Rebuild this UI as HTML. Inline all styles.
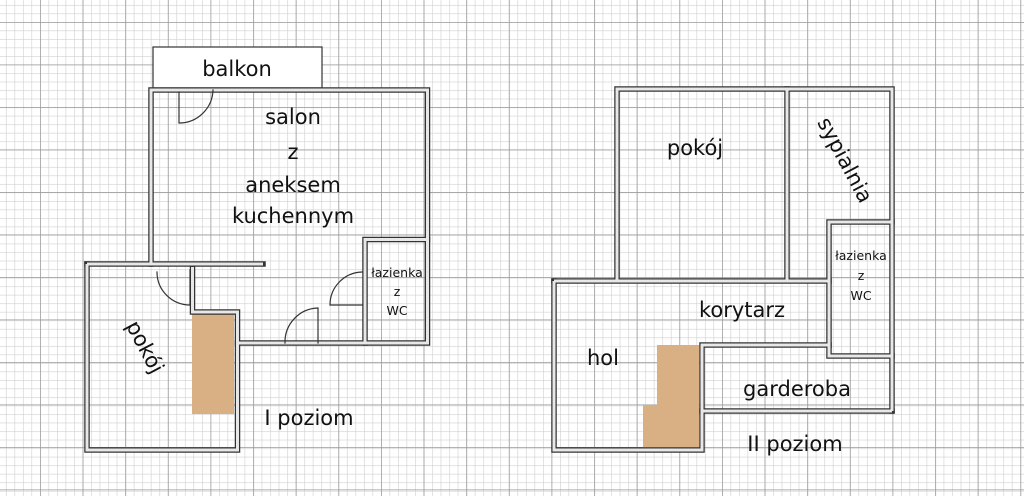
<!DOCTYPE html>
<html><head><meta charset="utf-8"><style>
html,body{margin:0;padding:0;background:#fff;}
svg{display:block}
text{font-family:"DejaVu Sans","Liberation Sans",sans-serif;fill:#111;}
</style></head><body>
<svg width="1024" height="496" viewBox="0 0 1024 496" xmlns="http://www.w3.org/2000/svg">
<defs>
<pattern id="minor" x="40" y="22" width="8.525" height="8.525" patternUnits="userSpaceOnUse">
<path d="M0,0 H8.525 M0,0 V8.525" stroke="#cfcfcf" stroke-width="1.2" fill="none"/>
</pattern>
<pattern id="major" x="40" y="22" width="42.625" height="42.5" patternUnits="userSpaceOnUse">
<path d="M0,0 H42.625 M0,0 V42.5" stroke="#9a9a9a" stroke-width="1.5" fill="none"/>
</pattern>
</defs>
<rect width="1024" height="496" fill="#fff"/>
<rect width="1024" height="496" fill="url(#minor)"/>
<rect width="1024" height="496" fill="url(#major)"/>

<!-- stairs -->
<rect x="192" y="313" width="42" height="101" fill="#d8b084"/>
<rect x="657" y="345" width="42" height="104" fill="#d8b084"/>
<rect x="643" y="405" width="14" height="44" fill="#d8b084"/>

<!-- balkon -->
<rect x="153" y="47" width="169" height="41" fill="#fff" stroke="#333" stroke-width="1.2"/>

<g fill="none" stroke-linejoin="miter" stroke-linecap="square">
<g stroke="#333" stroke-width="5.5">
<path d="M151,264 V90 H427.5 V343 H237.5"/>
<path d="M87,264 H263"/>
<path d="M87,264 V450 H237.5 V312 H192.5 V267"/>
<path d="M365,343 V239.5 H427.5"/>
<path d="M617,280 V89 H787 V280"/>
<path d="M787,89 H892 V411"/>
<path d="M892,222 H829 V356 H892"/>
<path d="M554,281 H829"/>
<path d="M554,281 V450 H702 V345 H829"/>
<path d="M702,411 H892"/>
</g>
<g stroke="#e8e8e8" stroke-width="3" stroke-linecap="butt">
<path d="M151,264 V90 H427.5 V343 H237.5"/>
<path d="M87,264 H263"/>
<path d="M87,264 V450 H237.5 V312 H192.5 V267"/>
<path d="M365,343 V239.5 H427.5"/>
<path d="M617,280 V89 H787 V280"/>
<path d="M787,89 H892 V411"/>
<path d="M892,222 H829 V356 H892"/>
<path d="M554,281 H829"/>
<path d="M554,281 V450 H702 V345 H829"/>
<path d="M702,411 H892"/>
</g>
<!-- doors -->
<g stroke="#333" stroke-width="1.2">
<path d="M179,92 V123 A34,34 0 0 0 213,90"/>
<path d="M190,305 A33,33 0 0 1 157,272"/>
<path d="M190,270 V305"/>
<path d="M318,343 V308 A34,34 0 0 0 285,343"/>
<path d="M362,305 H330 A33,33 0 0 1 362,272"/>
</g>
</g>

<g font-size="21" text-anchor="middle">
<text x="237" y="76">balkon</text>
<text x="293" y="124">salon</text>
<text x="293" y="159">z</text>
<text x="293" y="192">aneksem</text>
<text x="293" y="223">kuchennym</text>
<text x="309" y="425">I poziom</text>
<text transform="translate(145,347) rotate(62)" y="7">pokój</text>
<text x="695" y="155">pokój</text>
<text transform="translate(845,160) rotate(62)" y="7">sypialnia</text>
<text x="742" y="317">korytarz</text>
<text x="603" y="365">hol</text>
<text x="797" y="396">garderoba</text>
<text x="795" y="451">II poziom</text>
</g>
<g font-size="12.5" text-anchor="middle">
<text x="397" y="277">łazienka</text>
<text x="397" y="296">z</text>
<text x="397" y="315">WC</text>
<text x="861" y="260">łazienka</text>
<text x="861" y="280">z</text>
<text x="861" y="300">WC</text>
</g>
</svg>
</body></html>
